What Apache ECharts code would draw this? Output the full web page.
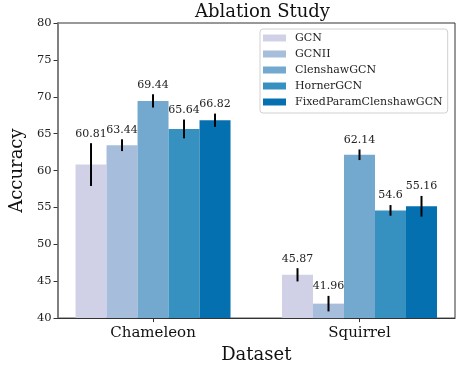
<!DOCTYPE html>
<html lang="en">

<head>
  <meta charset="UTF-8">
  <title>Ablation Study</title>
  <script src="https://cdn.jsdelivr.net/npm/echarts@6/dist/echarts.min.js"></script>
</head>

<body style="margin:0">
  <div id="main" style="width: 456px;height:369px"></div>
  <script>
    // data
    var datasets = ['Chameleon', 'Squirrel']
    var models = ['GCN', 'GCNII', 'ClenshawGCN', 'HornerGCN', 'FixedParamClenshawGCN']
    var chameleonAcc = [60.81, 63.44, 69.44, 65.64, 66.82]
    var chameleonErr = [2.9, 0.8, 0.9, 1.27, 0.9]
    var squirrelAcc = [45.87, 41.96, 62.14, 54.6, 55.16]
    var squirrelErr = [0.9, 1.05, 0.72, 0.72, 1.4]
    var colors = ['#d0d1e6', '#a6bddb', '#74a9cf', '#3690c0', '#0570b0']

    var FONT = 'DejaVu Serif'
    var BAR_W = 31

    var mCharts = echarts.init(document.getElementById('main'))

    var series = []
    var errData = []
    for (var i = 0; i < models.length; i++) {
      series.push({
        name: models[i],
        type: 'bar',
        barWidth: BAR_W,
        barGap: '0%',
        itemStyle: { color: colors[i] },
        data: [[0, chameleonAcc[i]], [1, squirrelAcc[i]]]
      })
      errData.push([0, i, chameleonAcc[i], chameleonErr[i]])
      errData.push([1, i, squirrelAcc[i], squirrelErr[i]])
    }

    // error bars + value labels
    series.push({
      type: 'custom',
      z: 5,
      encode: { x: 0, y: 2 },
      data: errData,
      renderItem: function (params, api) {
        var x = api.value(0), m = api.value(1), v = api.value(2), e = api.value(3)
        var off = (m - (models.length - 1) / 2) * BAR_W
        var top = api.coord([x, v + e])
        var bot = api.coord([x, v - e])
        return {
          type: 'group',
          children: [{
            type: 'line',
            shape: { x1: top[0] + off, y1: top[1], x2: bot[0] + off, y2: bot[1] },
            style: { stroke: '#000', lineWidth: 2 }
          }, {
            type: 'text',
            style: {
              text: String(v), x: top[0] + off, y: top[1] - 4,
              align: 'center', verticalAlign: 'bottom',
              fontSize: 11, fontFamily: FONT, fill: '#222'
            }
          }]
        }
      }
    })

    var option = {
      animation: false,
      textStyle: { fontFamily: FONT },
      title: {
        text: 'Ablation Study',
        left: 190,
        top: -2,
        textStyle: { fontFamily: FONT, fontSize: 18, fontWeight: 'normal', color: '#111' }
      },
      legend: {
        data: models,
        orient: 'vertical',
        left: 260,
        top: 29,
        padding: [3, 5, 5, 3],
        itemWidth: 23,
        itemHeight: 7,
        itemGap: 4,
        icon: 'rect',
        borderColor: '#d0d0d0',
        borderWidth: 1,
        borderRadius: 3,
        backgroundColor: 'rgba(255,255,255,0.8)',
        textStyle: { fontFamily: FONT, fontSize: 11, lineHeight: 12, color: '#222', padding: [0, 0, 0, 4] }
      },
      grid: {
        left: 57, right: 1, top: 23, bottom: 50,
        show: true, borderColor: '#333', borderWidth: 1
      },
      xAxis: {
        type: 'value',
        min: -0.4625,
        max: 1.4625,
        name: 'Dataset',
        nameLocation: 'middle',
        nameGap: 27,
        nameTextStyle: { fontFamily: FONT, fontSize: 18, color: '#111' },
        splitLine: { show: false },
        axisLine: { onZero: false, lineStyle: { color: '#333', width: 1 } },
        axisTick: { customValues: [0, 1], length: 4, lineStyle: { color: '#333' } },
        axisLabel: {
          customValues: [0, 1],
          formatter: function (v) { return datasets[v] },
          margin: 8,
          fontFamily: FONT, fontSize: 15, color: '#111'
        }
      },
      yAxis: {
        type: 'value',
        min: 40,
        max: 80,
        interval: 5,
        name: 'Accuracy',
        nameLocation: 'middle',
        nameGap: 22,
        nameTextStyle: { fontFamily: FONT, fontSize: 18, color: '#111' },
        splitLine: { show: false },
        axisLine: { show: true, onZero: false, lineStyle: { color: '#808080', width: 2 } },
        axisTick: { show: true, length: 4, lineStyle: { color: '#333' } },
        axisLabel: { margin: 6, fontFamily: FONT, fontSize: 11.5, color: '#222' }
      },
      series: series
    }
    mCharts.setOption(option)
  </script>
</body>

</html>
